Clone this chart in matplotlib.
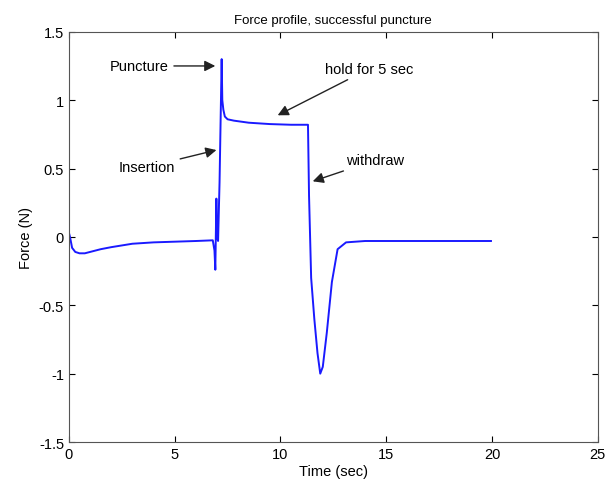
import matplotlib.pyplot as plt

plt.rcParams['font.family'] = ['Liberation Sans', 'DejaVu Sans']

# force trace
time_s = [0.0, 0.05, 0.15, 0.3, 0.5, 0.75, 1.0, 1.5, 2.0, 3.0, 4.0, 5.0, 6.0, 6.8,
          6.88, 6.92, 6.97, 7.0, 7.05, 7.12, 7.18, 7.22, 7.25, 7.3, 7.37, 7.5,
          7.8, 8.5, 9.5, 10.5, 11.25, 11.3, 11.35, 11.45, 11.6, 11.75, 11.88,
          12.0, 12.19, 12.43, 12.7, 13.1, 14.0, 16.0, 18.0, 19.95]
force_n = [0.03, 0.0, -0.08, -0.11, -0.12, -0.12, -0.11, -0.09, -0.075, -0.05, -0.04,
           -0.035, -0.03, -0.025, -0.1, -0.24, 0.28, 0.0, -0.03, 0.4, 0.94, 1.3, 1.0,
           0.93, 0.88, 0.86, 0.85, 0.835, 0.825, 0.82, 0.82, 0.82, 0.3, -0.3, -0.6,
           -0.85, -1.0, -0.95, -0.7, -0.33, -0.09, -0.04, -0.03, -0.03, -0.03, -0.03]

fig = plt.figure(figsize=(6.1, 4.89), dpi=100)
ax = fig.add_axes([0.113, 0.094, 0.867, 0.839])
ax.plot(time_s, force_n, color='#1a1aff', lw=1.4)

ax.set_xlim(0, 25)
ax.set_ylim(-1.5, 1.5)
ax.set_xticks([0, 5, 10, 15, 20, 25])
ax.set_yticks([-1.5, -1, -0.5, 0, 0.5, 1, 1.5])
ax.set_yticklabels(['-1.5', '-1', '-0.5', '0', '0.5', '1', '1.5'])
ax.tick_params(direction='in', labelsize=10.5, top=True, right=True, length=4)
for s in ax.spines.values():
    s.set_color('#555555')

ax.set_title('Force profile, successful puncture', fontsize=9.5)
ax.set_xlabel('Time (sec)', fontsize=10.5, labelpad=2)
ax.set_ylabel('Force (N)', fontsize=10.5)

arrow = dict(arrowstyle='-|>', color='#222222', lw=1.0, mutation_scale=16)
ax.annotate('Puncture', xy=(7.05, 1.25), xytext=(4.7, 1.25), fontsize=10.5,
            ha='right', va='center', arrowprops=arrow)
ax.annotate('Insertion', xy=(7.1, 0.64), xytext=(5.0, 0.51), fontsize=10.5,
            ha='right', va='center', arrowprops=arrow)
ax.annotate('hold for 5 sec', xy=(9.75, 0.88), xytext=(14.2, 1.23), fontsize=10.5,
            ha='center', va='center', arrowprops=arrow)
ax.annotate('withdraw', xy=(11.4, 0.4), xytext=(13.1, 0.56), fontsize=10.5,
            ha='left', va='center', arrowprops=arrow)

fig.savefig('out.png', dpi=100)
